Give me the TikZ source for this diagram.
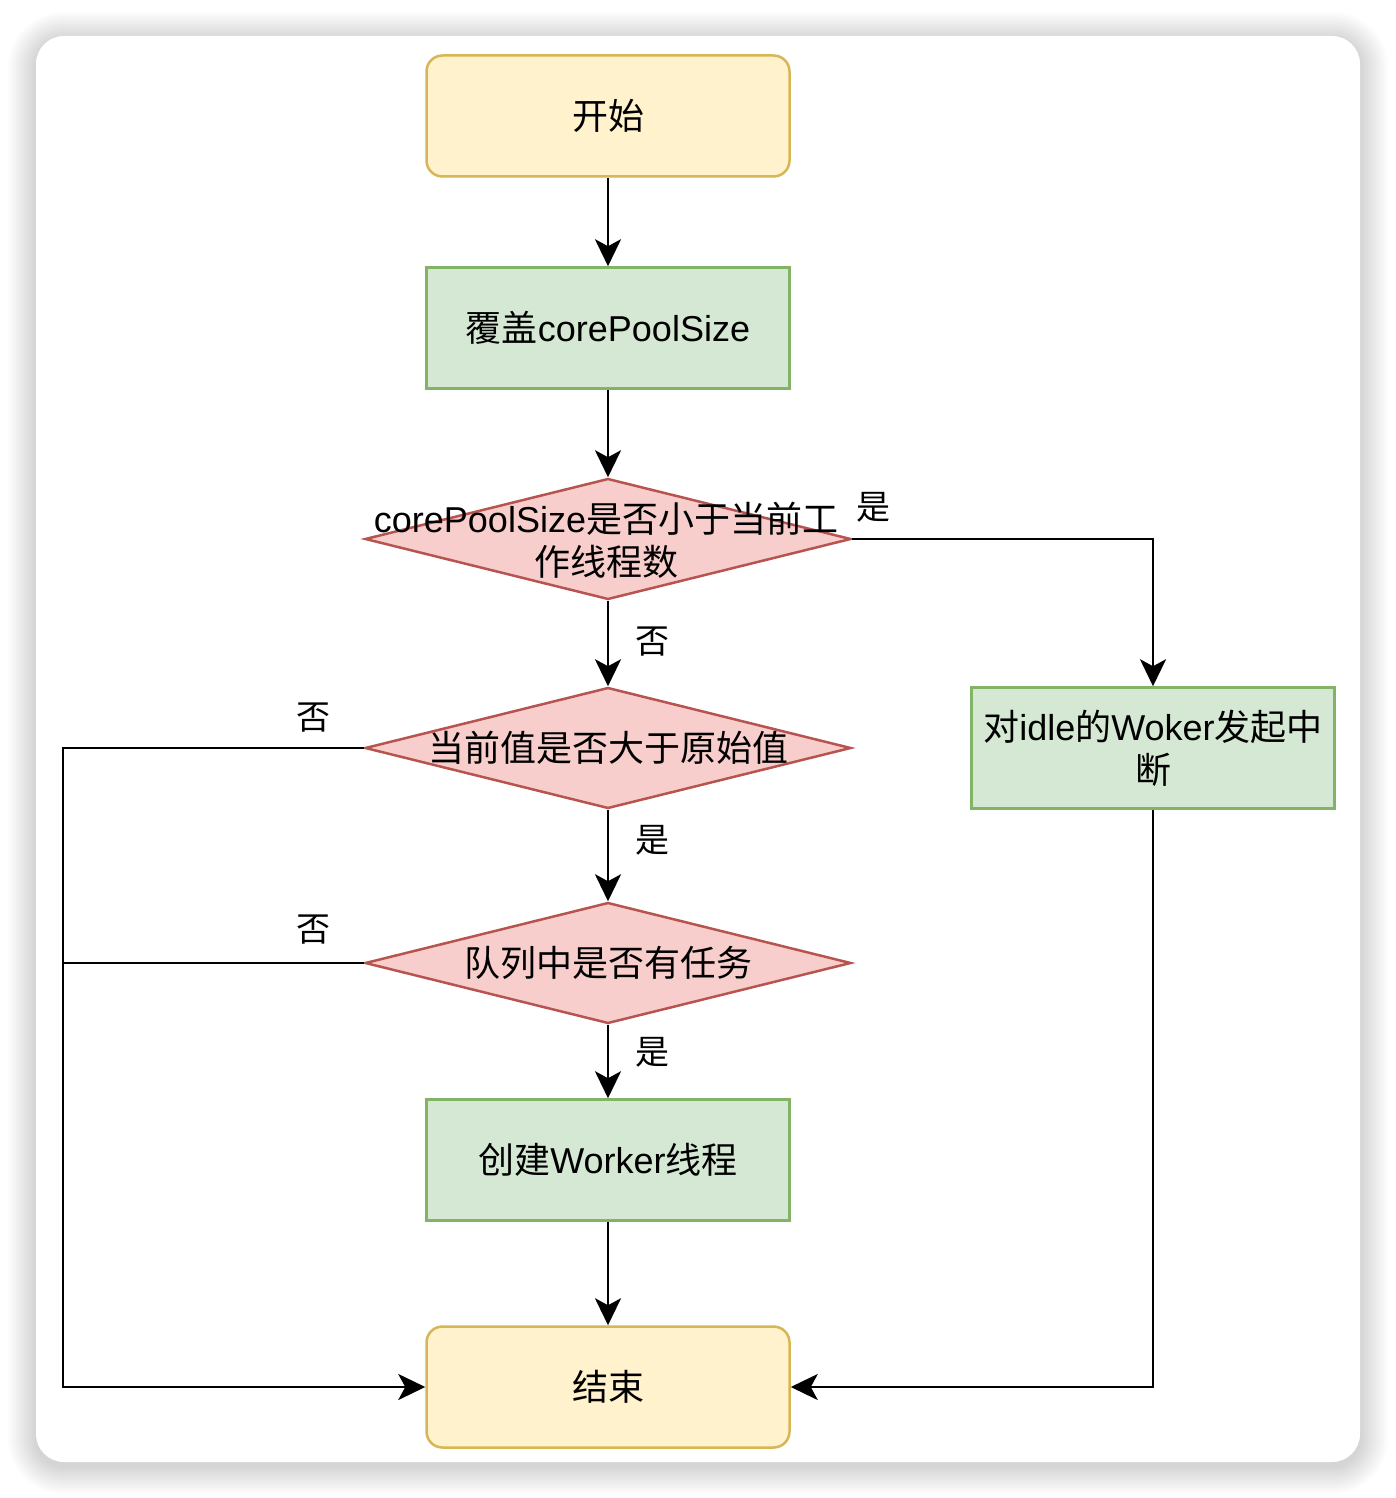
\documentclass[tikz,border=0pt]{standalone}
\usepackage{fontspec}
\setmainfont{Noto Sans CJK SC}
\newfontfamily\lat{Liberation Sans}
\usetikzlibrary{shapes.geometric,arrows.meta}
\definecolor{yfill}{HTML}{FFF2CC}\definecolor{ydraw}{HTML}{D6B656}
\definecolor{gfill}{HTML}{D5E8D4}\definecolor{gdraw}{HTML}{82B366}
\definecolor{rfill}{HTML}{F8CECC}\definecolor{rdraw}{HTML}{B85450}
\tikzset{
  base/.style={inner sep=0pt, font=\fontsize{36}{43}\selectfont, align=center},
  term/.style={base, rectangle, rounded corners=16pt, fill=yfill, draw=ydraw, line width=2.5pt, minimum width=363pt, minimum height=121pt},
  proc/.style={base, rectangle, fill=gfill, draw=gdraw, line width=2.5pt, minimum width=363pt, minimum height=121pt},
  decision/.style={diamond, inner sep=0pt, fill=rfill, draw=rdraw, line width=2.5pt, minimum width=486pt, minimum height=121pt},
  dtext/.style={base},
  lbl/.style={inner sep=0pt, font=\fontsize{34}{38}\selectfont},
  conn/.style={line width=2.8pt, -{Stealth[length=27pt,width=26pt,inset=7pt]}},
  plain/.style={line width=2.8pt}
}
\begin{document}
\begin{tikzpicture}[x=1pt,y=-1pt]
\useasboundingbox (0,0) rectangle (1396,1498);
\fill[white] (0,0) rectangle (1396,1498);
% card shadow
\foreach \i in {1,...,14}{
  \fill[black,opacity=0.01,rounded corners={28pt+\i*2pt}] (36-\i*2,36-\i*2+4) rectangle (1360+\i*2,1462+\i*2+4);
}
\fill[white,rounded corners=28pt] (36,36) rectangle (1360,1462);

\node[term] (start) at (608,116) {开始};
\node[proc] (cover) at (608,328) {覆盖{\lat corePoolSize}};
\node[decision] (d1) at (608,539) {};
\node[dtext] (d1t) at (606,540) {{\lat corePoolSize}是否小于当前工\\作线程数};
\node[decision] (d2) at (608,748) {};
\node[dtext] (d2t) at (608,748) {当前值是否大于原始值};
\node[decision] (d3) at (608,963) {};
\node[dtext] (d3t) at (608,963) {队列中是否有任务};
\node[proc] (create) at (608,1160) {创建{\lat Worker}线程};
\node[term] (end) at (608,1387) {结束};
\node[proc, text width=350pt] (intr) at (1153,748) {对{\lat idle}的{\lat Woker}发起中\\断};

\coordinate (c1) at (1153,539);
\coordinate (c2) at (63,748);
\coordinate (c3) at (63,963);
\coordinate (c4) at (63,1387);
\coordinate (c5) at (1153,1387);

\draw[conn] (start) -- (cover);
\draw[conn] (cover) -- (d1);
\draw[conn] (d1) -- (d2);
\draw[conn] (d1.east) -- (c1) -- (intr);
\draw[conn] (d2) -- (d3);
\draw[conn] (d3) -- (create);
\draw[conn] (create) -- (end);
\draw[conn] (d2.west) -- (c2) -- (c4) -- (end.west);
\draw[plain] (d3.west) -- (c3);
\draw[conn] (intr.south) -- (c5) -- (end.east);

\node[lbl] (l1) at (873,507) {是};
\node[lbl] (l2) at (652,642) {否};
\node[lbl] (l3) at (313,718) {否};
\node[lbl] (l4) at (652,840) {是};
\node[lbl] (l5) at (313,930) {否};
\node[lbl] (l6) at (652,1052) {是};
\end{tikzpicture}
\end{document}
